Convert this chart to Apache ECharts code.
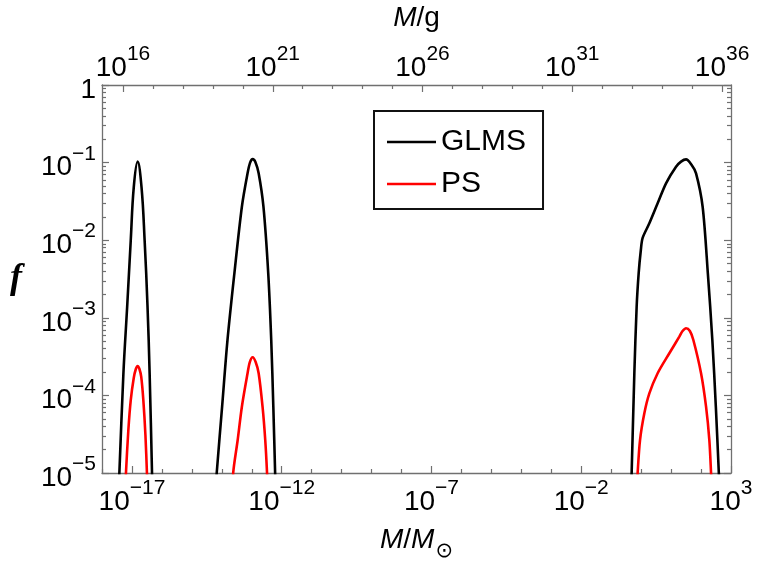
<!DOCTYPE html>
<html><head><meta charset="utf-8">
<script src="https://cdn.jsdelivr.net/npm/echarts@6/dist/echarts.min.js"></script>
<style>html,body{margin:0;padding:0;background:#fff}#c{width:757px;height:561px}</style>
</head><body><div id="c"></div>
<script>
// ---- data: x = log10(M/M_sun), y = f ----
const glms1LogM = [-17.44, -17.42, -17.285, -17.16, -17.04, -16.94, -16.81, -16.68, -16.577, -16.48, -16.41, -16.33, -16.32];
const glms1F    = [7e-6, 1e-5, 1.93e-4, 1.39e-3, 1.0e-2, 4.8e-2, 0.103, 4.8e-2, 1.0e-2, 1.39e-3, 1.93e-4, 1e-5, 7e-6];
const ps1LogM   = [-17.21, -17.20, -17.12, -17.04, -16.94, -16.87, -16.81, -16.75, -16.69, -16.62, -16.55, -16.50, -16.49];
const ps1F      = [7e-6, 1e-5, 3.58e-5, 8.7e-5, 1.68e-4, 2.19e-4, 2.39e-4, 2.19e-4, 1.73e-4, 8.7e-5, 3.09e-5, 1e-5, 7e-6];

const glms2LogM = [-14.19, -14.17, -13.99, -13.81, -13.58, -13.33, -13.14, -13.055, -12.97, -12.88, -12.77, -12.61, -12.45, -12.35, -12.28, -12.22, -12.21];
const glms2F    = [7e-6, 1e-5, 7.15e-5, 5.18e-4, 3.74e-3, 2.70e-2, 7.28e-2, 0.100, 0.111, 0.102, 7.28e-2, 2.70e-2, 3.74e-3, 5.18e-4, 7.15e-5, 1e-5, 7e-6];
const ps2LogM   = [-13.63, -13.62, -13.47, -13.33, -13.14, -13.065, -12.97, -12.87, -12.77, -12.64, -12.55, -12.49, -12.48];
const ps2F      = [7e-6, 1e-5, 2.66e-5, 7.15e-5, 1.93e-4, 2.69e-4, 3.10e-4, 2.69e-4, 1.93e-4, 7.15e-5, 2.66e-5, 1e-5, 7e-6];

const glms3LogM = [-0.33, -0.317, -0.227, -0.15, -0.083, -0.01, 0.05, 0.274, 0.551, 0.831, 1.165, 1.332, 1.499, 1.676, 1.833, 2.053, 2.227, 2.377, 2.494, 2.594, 2.61];
const glms3F    = [7e-6, 1e-5, 1.93e-4, 1.39e-3, 3.74e-3, 7.48e-3, 1.07e-2, 1.65e-2, 2.99e-2, 5.41e-2, 8.85e-2, 0.103, 0.110, 0.0946, 7.28e-2, 2.70e-2, 3.74e-3, 5.18e-4, 7.15e-5, 1e-5, 7e-6];
const ps3LogM   = [-0.13, -0.117, -0.037, 0.107, 0.274, 0.551, 0.942, 1.275, 1.376, 1.499, 1.627, 1.743, 2.0, 2.167, 2.277, 2.334, 2.35];
const ps3F      = [7e-6, 1e-5, 2.66e-5, 5.88e-5, 1.06e-4, 1.93e-4, 3.49e-4, 5.71e-4, 6.7e-4, 7.33e-4, 6.76e-4, 5.18e-4, 1.93e-4, 7.15e-5, 2.66e-5, 1e-5, 7e-6];

// ---- axes / ticks ----
const xMin = -18, xMax = 3;                   // log10(M/M_sun)
const logSolarMassGrams = 33.2986;            // log10(M_sun / g)
const xMajor = [-17, -12, -7, -2, 3];
const gMajor = [16, 21, 26, 31, 36];
const yMajor = [-5, -4, -3, -2, -1, 0];

const xMinor = []; for (let e = xMin; e <= xMax; e++) if (!xMajor.includes(e)) xMinor.push(e);
const gMinor = []; for (let e = 16; e <= 36; e++) if (!gMajor.includes(e)) gMinor.push(e);
const yMinor = []; for (let n = -5; n < 0; n++) for (let k = 2; k <= 9; k++) yMinor.push(n + Math.log10(k));

const GRAY = '#707070';
const FONT = 'Liberation Sans';

function pow10Label(v) {
  const n = Math.round(v);
  if (n === 0) return '{b|1}';
  return '{b|10}{s|' + (n < 0 ? '\u2212' + (-n) : String(n)) + '}';
}
const richPow = {
  b: { fontSize: 28, fontFamily: FONT, color: '#000', padding: [10, 0, 0, 0], verticalAlign: 'top' },
  s: { fontSize: 21, fontFamily: FONT, color: '#000', verticalAlign: 'top' }
};

function toPairs(lx, fy) { return lx.map((x, i) => [x, Math.log10(fy[i])]); }

const chart = echarts.init(document.getElementById('c'), null, { renderer: 'canvas' });

function xAx(pos, min, max, ticks, len, labels, extra) {
  return Object.assign({
    type: 'value', position: pos, min: min, max: max,
    splitLine: { show: false },
    axisLine: { show: false, onZero: false, lineStyle: { color: GRAY, width: 1.3 } },
    axisTick: { show: true, inside: true, length: len, customValues: ticks, lineStyle: { color: GRAY, width: 1.2 } },
    axisLabel: labels ? { show: true, customValues: labels, formatter: pow10Label, rich: richPow, margin: pos === 'bottom' ? 5 : 3, hideOverlap: false, showMinLabel: true, showMaxLabel: true } : { show: false }
  }, extra || {});
}
function yAx(pos, ticks, len, showLine, labels, extra) {
  return Object.assign({
    type: 'value', position: pos, min: -5, max: 0,
    splitLine: { show: false },
    axisLine: { show: showLine, onZero: false, lineStyle: { color: GRAY, width: 1.3 } },
    axisTick: { show: true, inside: true, length: len, customValues: ticks, lineStyle: { color: GRAY, width: 1.2 } },
    axisLabel: labels ? { show: true, customValues: labels, formatter: pow10Label, rich: richPow, margin: 6, showMinLabel: true, showMaxLabel: true } : { show: false }
  }, extra || {});
}

const option = {
  animation: false,
  backgroundColor: '#fff',
  grid: { left: 102, right: 26, top: 85, bottom: 88, containLabel: false, outerBoundsMode: 'none' },
  legend: {
    data: [{ name: 'GLMS', icon: 'rect' }, { name: 'PS', icon: 'rect' }],
    orient: 'vertical', left: 374, top: 111,
    itemWidth: 49, itemHeight: 2.5, itemGap: 12,
    padding: [16, 17, 10, 13],
    borderColor: '#111', borderWidth: 2, backgroundColor: '#fff',
    textStyle: { fontSize: 30, fontFamily: FONT, color: '#000' }
  },
  xAxis: [
    xAx('bottom', xMin, xMax, xMajor, 7, xMajor, {
      axisLine: { show: true, onZero: false, lineStyle: { color: GRAY, width: 1.3 } },
      name: '{i|M}{n|/}{i|M}{u|\u2299}', nameLocation: 'middle', nameGap: 53,
      nameTextStyle: { rich: {
        i: { fontSize: 28, fontFamily: FONT, fontStyle: 'italic', color: '#000', verticalAlign: 'top' },
        n: { fontSize: 28, fontFamily: FONT, color: '#000', verticalAlign: 'top' },
        u: { fontSize: 21, fontFamily: 'DejaVu Sans', color: '#000', padding: [15, 0, 0, 1], verticalAlign: 'top' }
      } }
    }),
    xAx('bottom', xMin, xMax, xMinor, 4, null),
    xAx('top', xMin + logSolarMassGrams, xMax + logSolarMassGrams, gMajor, 7, gMajor, {
      axisLine: { show: true, onZero: false, lineStyle: { color: GRAY, width: 1.3 } },
      name: '{i|M}{n|/g}', nameLocation: 'middle', nameGap: 53,
      nameTextStyle: { rich: {
        i: { fontSize: 28, fontFamily: FONT, fontStyle: 'italic', color: '#000' },
        n: { fontSize: 28, fontFamily: FONT, color: '#000' }
      } }
    }),
    xAx('top', xMin + logSolarMassGrams, xMax + logSolarMassGrams, gMinor, 4, null)
  ],
  yAxis: [
    yAx('left', yMajor, 7, true, yMajor, {
      name: 'f', nameLocation: 'middle', nameGap: 80, nameRotate: 0,
      nameTextStyle: { fontSize: 36, fontFamily: 'Liberation Serif', fontStyle: 'italic', fontWeight: 'bold', color: '#000' }
    }),
    yAx('left', yMinor, 4, false, null),
    yAx('right', yMajor, 7, true, null),
    yAx('right', yMinor, 4, false, null)
  ],
  series: []
};

const peaks = [
  ['GLMS', '#000000', glms1LogM, glms1F, 0.4], ['GLMS', '#000000', glms2LogM, glms2F, 0.3], ['GLMS', '#000000', glms3LogM, glms3F, 0.3],
  ['PS', '#ff0000', ps1LogM, ps1F, 0.3], ['PS', '#ff0000', ps2LogM, ps2F, 0.3], ['PS', '#ff0000', ps3LogM, ps3F, 0.3]
];
peaks.forEach(p => {
  option.series.push({
    name: p[0], type: 'line', xAxisIndex: 0, yAxisIndex: 0,
    data: toPairs(p[2], p[3]), showSymbol: false, symbol: 'none',
    smooth: p[4], clip: true, color: p[1],
    itemStyle: { color: p[1] },
    lineStyle: { color: p[1], width: 2.6 }
  });
});

chart.setOption(option);
</script>
</body></html>
